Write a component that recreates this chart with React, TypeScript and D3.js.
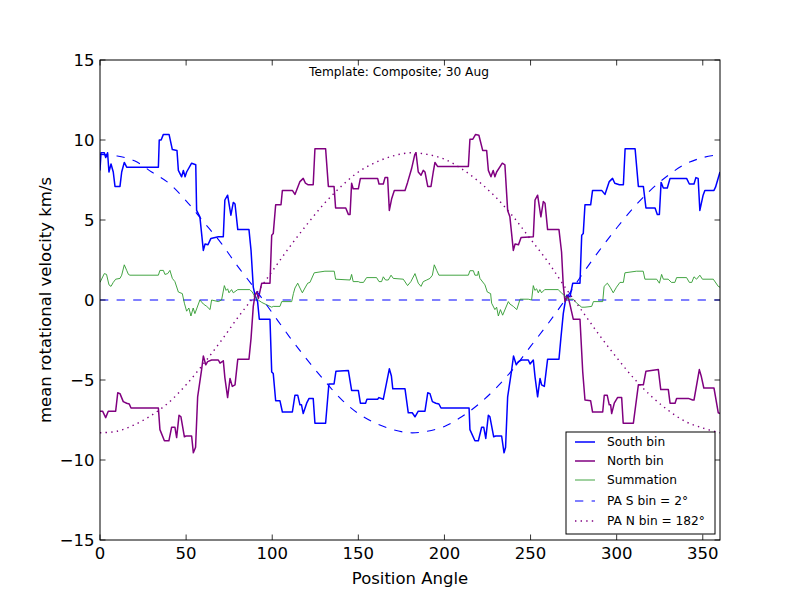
import React, { useEffect, useRef } from 'react';
import * as d3 from 'd3';

type Pt = [number, number];

// [position angle, velocity]
const southBin: Pt[] = [
  [0, 8.1], [0.6, 9.2], [2.5, 9.2], [3.3, 8.9], [4.4, 9.2], [5.2, 8.0], [6.4, 8.5], [7.7, 8.0], [8.7, 7.1],
  [11.6, 7.1], [12.6, 8.0], [14.1, 8.6], [15.5, 8.3], [33.9, 8.3], [34.4, 10.0], [35.5, 10.0], [36.8, 10.35],
  [40.1, 10.35], [42, 9.4], [44.7, 9.35], [45.5, 8.1], [47.4, 7.7], [48.4, 8.1], [49.4, 7.7], [50.3, 8.0],
  [53.2, 8.55], [55.6, 8.45], [56.1, 5.6], [58, 5.2], [60, 3.1], [61, 3.5], [62.7, 3.45], [64.4, 3.85],
  [68.7, 3.95], [71.6, 3.95], [72.5, 6.25], [74.1, 6.55], [76, 5.3], [77.4, 6.1], [78.4, 6.0], [80, 4.4],
  [86.5, 4.4], [87.7, 3.1], [89, 0.8], [90, 0.3], [91.5, -0.1], [92.5, -1.2], [98.7, -1.2], [99.7, -4.5],
  [100.6, -4.6], [102, -6.3], [104.5, -6.3], [105.9, -7.0], [111.7, -7.0], [113.2, -5.95], [114.8, -5.95],
  [116.1, -6.55], [117, -6.55], [118, -7.1], [120, -6.45], [121.4, -6.15], [123.8, -6.15], [124.8, -7.7],
  [131, -7.7], [132.9, -5.25], [135.9, -5.25], [137, -4.45], [144.2, -4.4], [146.1, -5.65], [150, -5.65],
  [151.2, -6.45], [154.2, -6.45], [155, -6.2], [161.2, -6.2], [162, -6.1], [164.5, -6.2], [168, -4.3],
  [169.2, -4.75], [170, -5.55], [177.1, -5.55], [179, -7.05], [181.3, -7.05], [182.9, -7.3], [184.8, -6.95],
  [188.7, -6.95], [190.3, -5.8], [191.6, -5.85], [193, -6.35], [195, -6.45], [196.8, -6.5], [198, -6.75],
  [214.3, -6.75], [214.8, -8.1], [217.7, -8.8], [219.7, -8.8], [221.6, -7.95], [222.8, -7.95], [224, -8.65],
  [225.5, -7.2], [226.4, -7.3], [228.6, -8.55], [229.8, -8.5], [233.2, -8.5], [234.6, -9.55], [235.5, -9.2],
  [236.7, -6.05], [239, -4.4], [240.1, -3.5], [241.7, -4.05], [242.9, -3.85], [244.8, -3.75], [248.7, -3.75],
  [249.7, -4.0], [251.6, -3.75], [252.6, -4.8], [254.1, -6.05], [255.5, -4.9], [256.4, -5.3], [258, -5.4],
  [259.9, -3.7], [266.5, -3.7], [267.6, -2.4], [269, -0.85], [270, -0.2], [271, 0.3], [272.9, 0.2],
  [274.5, 1.05], [278.7, 1.05], [279.7, 4.05], [280.6, 4.15], [281.6, 5.95], [284.9, 5.95], [286, 6.85],
  [291.3, 6.85], [293.2, 6.6], [295.7, 7.4], [297.6, 7.6], [298.9, 7.3], [301.6, 7.2], [303.9, 7.2],
  [304.9, 9.45], [310.7, 9.45], [312.6, 7.1], [315.5, 7.1], [317, 5.75], [322.3, 5.75], [323.6, 5.35],
  [324.8, 5.35], [325.8, 7.35], [327.1, 7.0], [329.4, 7.0], [331, 7.6], [340.6, 7.6], [342.2, 7.25],
  [344.9, 7.25], [346, 7.65], [347.3, 7.6], [348.3, 5.6], [350.2, 6.55], [351.2, 6.85], [356.5, 6.85],
  [357.4, 7.05], [360, 8.0],
];

const northBin: Pt[] = [
  [0, -6.95], [1.5, -6.95], [3.3, -7.35], [4.8, -6.95], [9.1, -6.95], [10.3, -5.8], [11.6, -5.85],
  [13.5, -6.35], [15.5, -6.45], [17, -6.5], [18, -6.75], [33.9, -6.75], [34.8, -8.1], [37.4, -8.8], [40, -8.8],
  [41.6, -7.95], [43.5, -7.95], [44.5, -8.6], [45.9, -7.2], [47, -7.3], [49, -8.55], [50, -8.5], [53.2, -8.5],
  [54.2, -9.55], [55.5, -9.2], [56.7, -6.05], [59, -4.35], [60, -3.5], [61.4, -4.05], [62.5, -3.85],
  [64.8, -3.75], [68.7, -3.75], [69.7, -3.95], [71.6, -3.8], [72.5, -4.85], [74.1, -6.1], [75.5, -4.9],
  [76.8, -5.4], [78.4, -5.3], [80, -3.7], [86.5, -3.7], [87.7, -2.4], [89, -0.4], [90, 0.3], [91, 0.5],
  [92, 0.1], [93.9, 1.05], [98.7, 1.05], [99.7, 4.05], [100.6, 4.15], [102, 5.95], [105.1, 5.95],
  [105.9, 6.85], [111.7, 6.85], [113.2, 6.6], [116.1, 7.4], [118, 7.6], [119.3, 7.3], [120.9, 7.2],
  [123.8, 7.2], [124.8, 9.45], [131, 9.45], [132.6, 7.1], [135.9, 7.1], [136.8, 5.75], [142.7, 5.75],
  [144.2, 5.35], [145.2, 5.35], [146.1, 7.3], [147, 6.95], [150, 6.95], [151.2, 7.6], [161.2, 7.6],
  [162, 7.25], [164.5, 7.25], [165.5, 7.65], [167, 7.65], [168, 5.6], [169.4, 6.35], [170.9, 6.85],
  [177.1, 6.85], [178.6, 7.35], [180.9, 8.2], [182.8, 9.1], [183.5, 9.2], [184.8, 8.0], [186.4, 7.8],
  [187.7, 8.1], [188.7, 8.0], [190.3, 7.1], [192.2, 7.1], [193.5, 8.0], [194.5, 8.6], [196, 8.35],
  [213.9, 8.35], [214.8, 10.05], [216.5, 10.05], [218.1, 10.35], [220, 10.3], [222.2, 9.35], [224.5, 9.35],
  [225.5, 8.1], [227, 7.7], [228.3, 8.1], [229.3, 7.7], [230.3, 8.0], [233.6, 8.55], [235.1, 8.45],
  [236.7, 5.6], [238, 5.2], [240, 3.1], [241, 3.5], [243, 3.45], [244.5, 3.9], [251.6, 3.95], [252.6, 6.25],
  [254.1, 6.55], [256, 5.2], [257.4, 6.15], [258.4, 6.05], [259.9, 4.4], [266.5, 4.4], [268, 3.0], [269, 0.9],
  [270, -0.1], [271.5, 0.3], [272.5, -0.1], [274.8, -1.2], [278.7, -1.2], [280.3, -4.5], [281.6, -6.25],
  [284.9, -6.3], [286, -7.0], [291.9, -7.0], [292.8, -5.95], [294.5, -5.95], [295.7, -6.55], [296.5, -6.55],
  [297.1, -7.1], [298.6, -6.45], [300.5, -6.1], [302.9, -6.1], [303.8, -7.7], [309.7, -7.7], [312.6, -5.3],
  [315.5, -5.3], [317, -4.45], [324.2, -4.35], [325.6, -5.6], [330, -5.6], [331, -6.45], [333.9, -6.45],
  [334.8, -6.15], [341.6, -6.15], [344.1, -6.25], [344.9, -6.25], [348, -4.35], [349.2, -4.8], [350.6, -5.5],
  [356.5, -5.5], [359, -7.05], [360, -7.1],
];

const summation: Pt[] = [
  [0, 1.1], [2.5, 1.65], [3.8, 1.6], [5.2, 0.95], [6.4, 0.85], [7.7, 1.1], [9.1, 1.3], [11.6, 1.35],
  [12.6, 1.55], [14.1, 2.2], [15.5, 1.85], [16.5, 1.6], [17.4, 1.55], [33.9, 1.55], [34.8, 1.85], [36.8, 1.85],
  [37.7, 1.6], [39.3, 1.65], [40.6, 1.85], [42, 1.35], [43.5, 1.15], [45.5, 0.5], [47.8, 0.4], [49, -0.2],
  [50.3, -0.7], [51.6, -0.5], [52.8, -1.0], [54.1, -0.5], [55.1, -0.85], [58, 0.0], [60, -0.25], [62, -0.4],
  [63.9, -0.6], [64.8, 0.0], [68.7, -0.1], [70.6, 0.0], [72.2, 0.9], [73.2, 0.6], [74.1, 0.7], [74.9, 0.45],
  [76.4, 0.65], [77.4, 0.45], [80, 0.65], [87, 0.65], [88.4, 0.5], [90, 0.2], [91.9, 0.0], [93.9, -0.15],
  [98.7, -0.4], [99.7, -0.45], [100.6, -0.4], [104.5, -0.4], [105.5, -0.1], [111.3, -0.1], [112.3, 0.4],
  [113.2, 0.75], [114.8, 1.05], [116.1, 0.75], [117.5, 0.45], [119, 0.75], [120.6, 1.05], [121.9, 1.1],
  [124.4, 1.7], [130.6, 1.8], [136, 1.8], [136.8, 1.3], [145.2, 1.25], [146.1, 1.6], [147, 1.15], [150, 1.15],
  [151, 1.1], [153, 1.1], [154.8, 1.4], [160.6, 1.4], [162, 1.15], [163.5, 1.15], [164.5, 1.45], [165.8, 1.25],
  [167.4, 1.25], [169, 1.55], [170.3, 1.35], [176.1, 1.3], [178.6, 0.9], [180.5, 1.15], [182.9, 1.65],
  [184.8, 1.05], [186.4, 0.85], [187.7, 1.15], [189.7, 1.25], [191.6, 1.35], [193, 1.55], [194.1, 2.2],
  [195.5, 1.85], [196.8, 1.55], [213.9, 1.55], [214.8, 1.83], [216.8, 1.83], [217.7, 1.55], [219.3, 1.55],
  [219.7, 1.8], [220.6, 1.35], [223.5, 0.95], [224.9, 0.5], [226.8, 0.4], [227.4, -0.2], [229.3, -0.6],
  [230.3, -0.45], [231.3, -1.0], [232.5, -0.6], [233.8, -0.95], [237.1, -0.1], [238, -0.25], [240, -0.4],
  [242, -0.6], [243.9, 0.05], [248.7, 0.05], [250.6, 0.0], [251.6, 0.9], [252.5, 0.6], [253.5, 0.7],
  [254.5, 0.45], [255.4, 0.65], [256.4, 0.45], [258.2, 0.65], [266, 0.65], [267.9, 0.45], [269.9, 0.25],
  [271.8, 0.05], [274.8, 0.05], [276.8, -0.2], [279.7, -0.45], [281.6, -0.45], [285.5, -0.4], [286.5, -0.1],
  [291.9, -0.1], [292.7, 0.85], [294.6, 1.05], [296.2, 0.8], [298, 0.45], [299.9, 0.8], [301.9, 1.1],
  [303.9, 1.1], [304.8, 1.7], [311.5, 1.8], [315.4, 1.8], [316.4, 1.3], [323.2, 1.3], [324.8, 1.05],
  [326.1, 1.6], [327.1, 1.3], [329.9, 1.3], [331.8, 1.1], [333.8, 1.1], [334.8, 1.4], [340.6, 1.4],
  [342.2, 1.1], [343.6, 1.1], [344.9, 1.45], [346.4, 1.3], [348.3, 1.55], [349.8, 1.3], [356.1, 1.3],
  [359, 0.85], [360, 0.8],
];

// smooth model curves, sampled every 10 degrees
const modelAngles = d3.range(0, 361, 10);
const paSouth = [
  9.1, 9.0, 8.7, 8.0, 7.3, 6.2, 4.9, 3.6, 2.1, 0.7, -0.8, -2.3, -3.7, -5.0, -6.2, -7.1, -7.7, -8.1, -8.3,
  -8.2, -7.9, -7.3, -6.5, -5.5, -4.3, -2.9, -1.5, 0.0, 1.6, 3.1, 4.5, 5.8, 6.9, 7.8, 8.5, 8.9, 9.1,
];
const paNorth = [
  -8.3, -8.2, -7.8, -7.2, -6.4, -5.3, -4.0, -2.6, -1.1, 0.3, 1.8, 3.3, 4.7, 6.0, 7.1, 8.0, 8.6, 9.0, 9.2,
  9.1, 8.8, 8.2, 7.4, 6.4, 5.2, 3.8, 2.4, 0.8, -0.7, -2.2, -3.6, -4.9, -6.0, -6.9, -7.6, -8.0, -8.3,
];

const xTicks = [0, 50, 100, 150, 200, 250, 300, 350];
const yTicks = [-15, -10, -5, 0, 5, 10, 15];

const legendItems = [
  { label: 'South bin', color: 'blue', width: 1.5, dash: null as string | null },
  { label: 'North bin', color: 'purple', width: 1.5, dash: null },
  { label: 'Summation', color: '#2e9a2e', width: 0.9, dash: null },
  { label: 'PA S bin = 2°', color: 'blue', width: 1.1, dash: '8.3,8.3' },
  { label: 'PA N bin = 182°', color: 'purple', width: 1.3, dash: '1.4,4.2' },
];

const App: React.FC = () => {
  const svgRef = useRef<SVGSVGElement>(null);

  useEffect(() => {
    if (!svgRef.current) return;
    const svg = d3.select(svgRef.current);
    svg.selectAll('*').remove();

    const left = 100, right = 720, top = 60, bottom = 540;
    const font = 'DejaVu Sans';

    const x = d3.scaleLinear().domain([0, 360]).range([left, right]);
    const y = d3.scaleLinear().domain([-15, 15]).range([bottom, top]);

    svg.append('rect').attr('width', 800).attr('height', 600).attr('fill', '#fff');

    svg.append('clipPath').attr('id', 'plot')
      .append('rect').attr('x', left).attr('y', top).attr('width', right - left).attr('height', bottom - top);

    const plot = svg.append('g').attr('clip-path', 'url(#plot)');

    const line = d3.line<Pt>().x(d => x(d[0])).y(d => y(d[1]));
    const smooth = d3.line<number>()
      .x((_, i) => x(modelAngles[i]))
      .y(d => y(d))
      .curve(d3.curveCatmullRom);

    // zero line
    plot.append('line')
      .attr('x1', x(0)).attr('x2', x(360)).attr('y1', y(0)).attr('y2', y(0))
      .attr('stroke', 'blue').attr('stroke-width', 1.1).attr('stroke-dasharray', '8.3,8.3');

    plot.append('path').attr('d', line(southBin)).attr('fill', 'none')
      .attr('stroke', 'blue').attr('stroke-width', 1.5).attr('stroke-linejoin', 'round');
    plot.append('path').attr('d', line(northBin)).attr('fill', 'none')
      .attr('stroke', 'purple').attr('stroke-width', 1.5).attr('stroke-linejoin', 'round');
    plot.append('path').attr('d', line(summation)).attr('fill', 'none')
      .attr('stroke', '#2e9a2e').attr('stroke-width', 0.9);
    plot.append('path').attr('d', smooth(paSouth)).attr('fill', 'none')
      .attr('stroke', 'blue').attr('stroke-width', 1.1).attr('stroke-dasharray', '8.3,8.3');
    plot.append('path').attr('d', smooth(paNorth)).attr('fill', 'none')
      .attr('stroke', 'purple').attr('stroke-width', 1.4).attr('stroke-dasharray', '1.4,4.2');

    // frame
    svg.append('rect').attr('x', left).attr('y', top).attr('width', right - left).attr('height', bottom - top)
      .attr('fill', 'none').attr('stroke', '#000').attr('stroke-width', 1);

    // ticks (inward, all four sides)
    const tickLen = 5.5;
    const ticks = svg.append('g').attr('stroke', '#000').attr('stroke-width', 0.8);
    xTicks.forEach(t => {
      ticks.append('line').attr('x1', x(t)).attr('x2', x(t)).attr('y1', bottom).attr('y2', bottom - tickLen);
      ticks.append('line').attr('x1', x(t)).attr('x2', x(t)).attr('y1', top).attr('y2', top + tickLen);
    });
    yTicks.forEach(t => {
      ticks.append('line').attr('x1', left).attr('x2', left + tickLen).attr('y1', y(t)).attr('y2', y(t));
      ticks.append('line').attr('x1', right).attr('x2', right - tickLen).attr('y1', y(t)).attr('y2', y(t));
    });

    const fmt = d3.format('d');
    svg.append('g').selectAll('text').data(xTicks).enter().append('text')
      .attr('x', d => x(d)).attr('y', bottom + 19)
      .attr('text-anchor', 'middle').attr('font-family', font).attr('font-size', 16.5)
      .text(d => fmt(d));
    svg.append('g').selectAll('text').data(yTicks).enter().append('text')
      .attr('x', left - 5.5).attr('y', d => y(d)).attr('dy', '0.36em')
      .attr('text-anchor', 'end').attr('font-family', font).attr('font-size', 16.5)
      .text(d => fmt(d));

    svg.append('text').attr('x', (left + right) / 2).attr('y', 584)
      .attr('text-anchor', 'middle').attr('font-family', font).attr('font-size', 16.5)
      .text('Position Angle');
    svg.append('text').attr('transform', `translate(51,${(top + bottom) / 2}) rotate(-90)`)
      .attr('text-anchor', 'middle').attr('font-family', font).attr('font-size', 16.5)
      .text('mean rotational velocity km/s');

    svg.append('text').attr('x', 399).attr('y', 76)
      .attr('text-anchor', 'middle').attr('font-family', font).attr('font-size', 12.2)
      .text('Template: Composite; 30 Aug');

    // legend
    const lg = svg.append('g');
    lg.append('rect').attr('x', 566).attr('y', 432).attr('width', 149).attr('height', 102)
      .attr('fill', '#fff').attr('stroke', '#000').attr('stroke-width', 1);
    const rowY = [442, 461, 480, 501, 521];
    legendItems.forEach((item, i) => {
      const ln = lg.append('line').attr('x1', 575).attr('x2', 595).attr('y1', rowY[i]).attr('y2', rowY[i])
        .attr('stroke', item.color).attr('stroke-width', item.width);
      if (item.dash) ln.attr('stroke-dasharray', item.dash);
      lg.append('text').attr('x', 607).attr('y', rowY[i]).attr('dy', '0.36em')
        .attr('font-family', font).attr('font-size', 12.2).text(item.label);
    });
  }, []);

  return (
    <svg ref={svgRef} width={800} height={600} viewBox="0 0 800 600"
      style={{ position: 'absolute', left: 0, top: 0 }} />
  );
};

export default App;
